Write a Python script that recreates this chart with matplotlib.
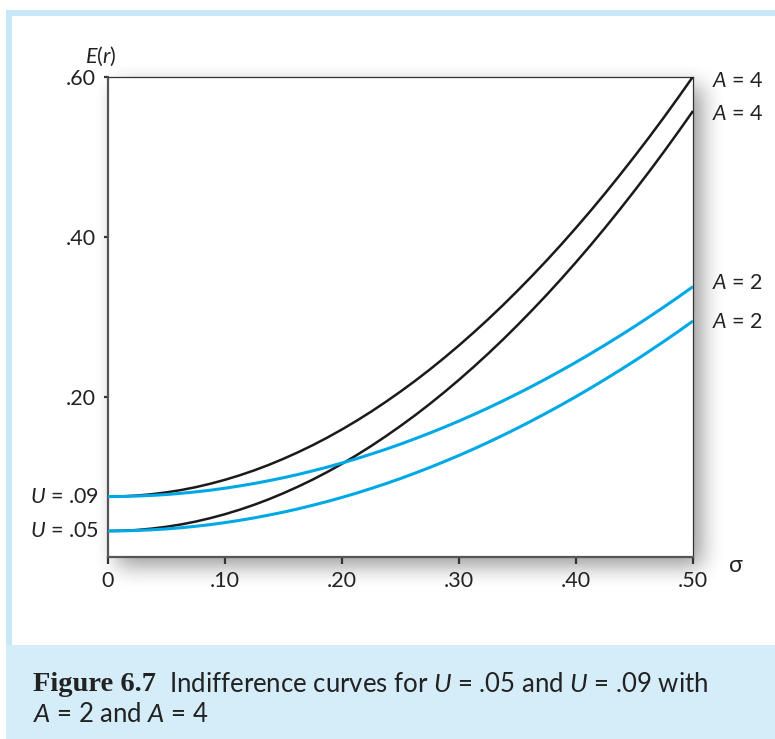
import numpy as np
import matplotlib
matplotlib.use("Agg")
import matplotlib.pyplot as plt
from matplotlib.patches import Rectangle

# ---------------- data ----------------
sigma = [0.0000, 0.0125, 0.0250, 0.0375, 0.0500, 0.0625, 0.0750, 0.0875, 0.1000, 0.1125,
         0.1250, 0.1375, 0.1500, 0.1625, 0.1750, 0.1875, 0.2000, 0.2125, 0.2250, 0.2375,
         0.2500, 0.2625, 0.2750, 0.2875, 0.3000, 0.3125, 0.3250, 0.3375, 0.3500, 0.3625,
         0.3750, 0.3875, 0.4000, 0.4125, 0.4250, 0.4375, 0.4500, 0.4625, 0.4750, 0.4875,
         0.5000]
er_u09_a4 = [0.0755, 0.0758, 0.0768, 0.0785, 0.0808, 0.0837, 0.0873, 0.0916, 0.0965, 0.1021,
             0.1083, 0.1152, 0.1228, 0.1310, 0.1398, 0.1493, 0.1595, 0.1703, 0.1818, 0.1940,
             0.2068, 0.2202, 0.2343, 0.2491, 0.2645, 0.2806, 0.2973, 0.3147, 0.3328, 0.3515,
             0.3708, 0.3908, 0.4115, 0.4328, 0.4548, 0.4775, 0.5008, 0.5247, 0.5493, 0.5746,
             0.6005]
er_u05_a4 = [0.0325, 0.0328, 0.0338, 0.0355, 0.0378, 0.0407, 0.0443, 0.0486, 0.0535, 0.0591,
             0.0653, 0.0722, 0.0798, 0.0880, 0.0968, 0.1063, 0.1165, 0.1273, 0.1388, 0.1510,
             0.1638, 0.1772, 0.1913, 0.2061, 0.2215, 0.2376, 0.2543, 0.2717, 0.2898, 0.3085,
             0.3278, 0.3478, 0.3685, 0.3898, 0.4118, 0.4345, 0.4578, 0.4817, 0.5063, 0.5316,
             0.5575]
er_u09_a2 = [0.0755, 0.0757, 0.0762, 0.0770, 0.0781, 0.0796, 0.0814, 0.0835, 0.0860, 0.0888,
             0.0919, 0.0954, 0.0991, 0.1032, 0.1077, 0.1124, 0.1175, 0.1229, 0.1287, 0.1347,
             0.1411, 0.1479, 0.1549, 0.1623, 0.1700, 0.1780, 0.1864, 0.1951, 0.2041, 0.2135,
             0.2232, 0.2332, 0.2435, 0.2542, 0.2652, 0.2765, 0.2881, 0.3001, 0.3124, 0.3250,
             0.3380]
er_u05_a2 = [0.0325, 0.0327, 0.0332, 0.0340, 0.0351, 0.0366, 0.0384, 0.0405, 0.0430, 0.0458,
             0.0489, 0.0524, 0.0561, 0.0602, 0.0647, 0.0694, 0.0745, 0.0799, 0.0857, 0.0917,
             0.0981, 0.1049, 0.1119, 0.1193, 0.1270, 0.1350, 0.1434, 0.1521, 0.1611, 0.1705,
             0.1802, 0.1902, 0.2005, 0.2112, 0.2222, 0.2335, 0.2451, 0.2571, 0.2694, 0.2820,
             0.2950]

x_ticks = [0, 0.10, 0.20, 0.30, 0.40, 0.50]
x_tick_labels = ["0", ".10", ".20", ".30", ".40", ".50"]
y_ticks = [0.20, 0.40, 0.60]
y_tick_labels = [".20", ".40", ".60"]
u_labels = ["$U$ = .09", "$U$ = .05"]
a_labels = ["$A$ = 4", "$A$ = 4", "$A$ = 2", "$A$ = 2"]
caption_bold = "Figure 6.7"
caption_line1 = "  Indifference curves for $U$ = .05 and $U$ = .09 with"
caption_line2 = "$A$ = 2 and $A$ = 4"

# ---------------- style ----------------
plt.rcParams['font.family'] = ['Lato', 'DejaVu Sans']
plt.rcParams['mathtext.fontset'] = 'custom'
plt.rcParams['mathtext.rm'] = 'Lato'
plt.rcParams['mathtext.it'] = 'Lato:italic'
plt.rcParams['mathtext.bf'] = 'Lato:bold'

W, H = 775, 739
fig = plt.figure(figsize=(W / 100, H / 100), dpi=100)
fig.patch.set_facecolor('white')

BORDER = '#c8e8f8'
CAPBG = '#d5ecf9'
CYAN = '#00a9e6'
TXT = '#222222'
FS = 15.5


def frect(x0, y0, x1, y1, color, z):
    r = Rectangle((x0 / W, 1 - y1 / H), (x1 - x0) / W, (y1 - y0) / H,
                  transform=fig.transFigure, facecolor=color, edgecolor='none', zorder=z)
    fig.add_artist(r)


# outer frame and caption panel
frect(6, 10, W, H, BORDER, -10)
frect(12, 16, W, 645, 'white', -9)
frect(6, 645, W, H, CAPBG, -9)

# axes placement (pixels)
AX_L, AX_R, AX_T, AX_B = 108, 693, 77, 557

# drop shadow behind the plot box
img = np.zeros((H, W))
off = 9
img[AX_T + off:AX_B + off, AX_L + off:AX_R + off] = 1.0
k = 25
ker = np.ones(k) / k
for _ in range(2):
    img = np.apply_along_axis(lambda r: np.convolve(r, ker, mode='same'), 1, img)
    img = np.apply_along_axis(lambda c: np.convolve(c, ker, mode='same'), 0, img)
rgba = np.zeros((H, W, 4))
rgba[..., 3] = img * 0.40
rgba[645:, :, 3] = 0
bg = fig.add_axes([0, 0, 1, 1], zorder=-5)
bg.imshow(rgba, aspect='auto', extent=[0, W, H, 0], interpolation='bilinear')
bg.set_xlim(0, W)
bg.set_ylim(H, 0)
bg.axis('off')

ax = fig.add_axes([AX_L / W, 1 - AX_B / H, (AX_R - AX_L) / W, (AX_B - AX_T) / H])
ax.set_facecolor('white')
ax.set_xlim(0, 0.50)
ax.set_ylim(0, 0.60)

ax.plot(sigma, er_u09_a4, color='#1a1a1a', lw=1.8, solid_capstyle='butt', zorder=3)
ax.plot(sigma, er_u05_a4, color='#1a1a1a', lw=1.8, solid_capstyle='butt', zorder=3)
ax.plot(sigma, er_u09_a2, color=CYAN, lw=2.2, solid_capstyle='butt', zorder=4)
ax.plot(sigma, er_u05_a2, color=CYAN, lw=2.2, solid_capstyle='butt', zorder=4)

for s in ['left', 'bottom']:
    ax.spines[s].set_color('#555555')
    ax.spines[s].set_linewidth(1.6)
for s in ['top', 'right']:
    ax.spines[s].set_color('#333333')
    ax.spines[s].set_linewidth(0.9)

ax.set_xticks(x_ticks)
ax.set_xticklabels(x_tick_labels)
ax.set_yticks(y_ticks)
ax.set_yticklabels(y_tick_labels)
ax.tick_params(axis='x', direction='out', length=5, width=1.6, color='#333333',
               labelsize=FS, pad=5, labelcolor=TXT)
ax.tick_params(axis='y', direction='out', length=3, width=1.6, color='#333333',
               labelsize=FS, pad=6, labelcolor=TXT)

# axis titles
ax.text(-0.006, 0.611, "$E$($r$)", ha='center', va='bottom', fontsize=FS, color=TXT,
        clip_on=False)
ax.text(0.537, -0.01, "σ", ha='center', va='center', fontsize=FS + 1, color=TXT,
        clip_on=False)

# U labels at the intercepts
ax.text(-0.0075, er_u09_a4[0], u_labels[0], ha='right', va='center', fontsize=FS,
        color=TXT, clip_on=False)
ax.text(-0.0075, er_u05_a4[0], u_labels[1], ha='right', va='center', fontsize=FS,
        color=TXT, clip_on=False)

# A labels at the right ends
ends = [er_u09_a4[-1], er_u05_a4[-1], er_u09_a2[-1], er_u05_a2[-1]]
dy = [-0.006, -0.004, 0.005, -0.001]
for lab, e, d in zip(a_labels, ends, dy):
    ax.text(0.5165, e + d, lab, ha='left', va='center', fontsize=FS, color=TXT,
            clip_on=False)

# caption
t1 = fig.text(33 / W, 1 - 691 / H, caption_bold, fontsize=20.5, fontweight='bold',
              family=['Liberation Serif', 'DejaVu Serif'], color=TXT,
              ha='left', va='baseline')
fig.canvas.draw()
plt.annotate(caption_line1, xy=(1, 0), xycoords=t1, xytext=(0, 0),
             textcoords='offset points', fontsize=18.5, color=TXT,
             ha='left', va='bottom', annotation_clip=False)
fig.text(33 / W, 1 - 722 / H, caption_line2, fontsize=18.5, color=TXT,
         ha='left', va='baseline')

fig.savefig('out.png', dpi=100, facecolor=fig.get_facecolor())
